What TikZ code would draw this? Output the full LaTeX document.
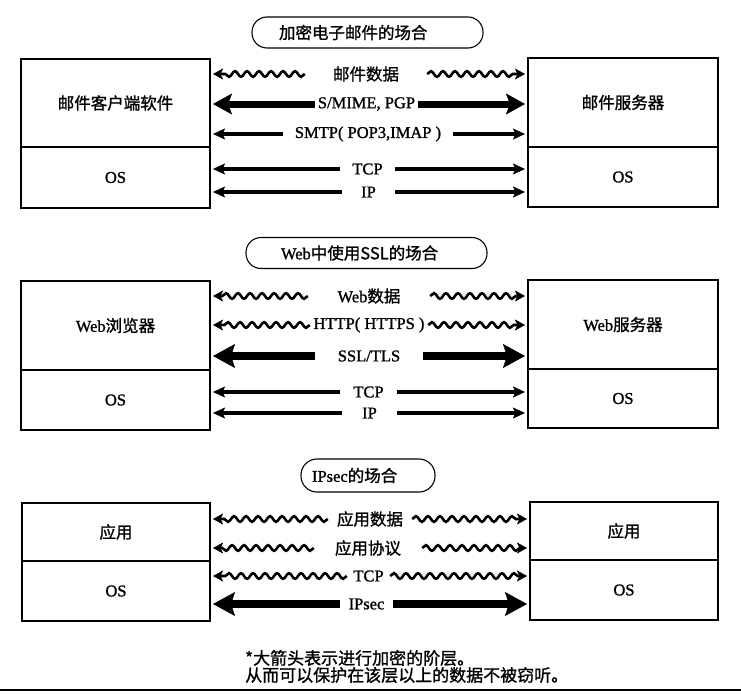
\documentclass[tikz,border=0pt]{standalone}
\usepackage{fontspec}
\setmainfont{Liberation Serif}[FakeBold=1.2]
\newfontfamily\cjk{Noto Sans CJK SC}[FakeBold=1.2]
\usetikzlibrary{arrows.meta,decorations.pathmorphing}
\newcommand{\zh}[1]{{\cjk #1}}
\begin{document}
\begin{tikzpicture}[x=1pt,y=-1pt,
  every node/.style={font=\fontsize{16.5}{19}\selectfont},
  box/.style={draw, line width=1.1pt, inner sep=0pt},
  pill/.style={draw, line width=1.1pt, rounded corners=15pt, minimum height=31pt, align=left},
  gap/.style={inner sep=0pt, minimum height=14pt},
  wavearr/.style={line width=2.6pt, -{Stealth[length=10pt,width=11pt,inset=2.5pt,line width=0.4pt]}, shorten >=2.5pt, decorate, decoration={snake, amplitude=2.8pt, segment length=12pt, post length=9pt}},
  medarr/.style={line width=3.4pt, -{Stealth[length=12pt,width=11pt,inset=2.5pt,line width=0.4pt]}, shorten >=2.5pt},
  bigarr/.style={line width=7pt, -{Stealth[length=19pt,width=21pt,inset=4pt,line width=0.4pt]}, shorten >=2.5pt},
  hugearr/.style={line width=8pt, -{Stealth[length=22pt,width=24pt,inset=4pt,line width=0.4pt]}, shorten >=2.5pt},
]
\useasboundingbox (0,0) rectangle (741,693);

% ---------- Section 1 ----------
\node[pill, text width=177pt, inner xsep=27pt] (p1) at (367.5,32.5) {\zh{加密电子邮件的场合}};
\node[box, minimum width=189pt, minimum height=88pt] (L1t) at (115.5,103) {\zh{邮件客户端软件}};
\node[box, minimum width=189pt, minimum height=61pt] (L1b) at (115.5,177.5) {OS};
\node[box, minimum width=190pt, minimum height=89pt] (R1t) at (623,102.5) {\zh{邮件服务器}};
\node[box, minimum width=190pt, minimum height=60pt] (R1b) at (623,177) {OS};

\node[gap, minimum width=122pt] (a11) at (366,74) {\zh{邮件数据}};
\node[gap, minimum width=103pt] (a12) at (366.5,104) {S/MIME, PGP};
\node[gap, minimum width=170pt] (a13) at (368,134) {SMTP( POP3,IMAP )};
\node[gap, minimum width=55pt] (a14) at (367.5,169) {TCP};
\node[gap, minimum width=53pt] (a15) at (368.5,192) {IP};

\draw[wavearr] (a11.west) -- (a11.west -| L1t.east);
\draw[wavearr] (a11.east) -- (a11.east -| R1t.west);
\draw[bigarr] (a12.west) -- (a12.west -| L1t.east);
\draw[bigarr] (a12.east) -- (a12.east -| R1t.west);
\draw[medarr] (a13.west) -- (a13.west -| L1t.east);
\draw[medarr] (a13.east) -- (a13.east -| R1t.west);
\draw[medarr] (a14.west) -- (a14.west -| L1b.east);
\draw[medarr] (a14.east) -- (a14.east -| R1b.west);
\draw[medarr] (a15.west) -- (a15.west -| L1b.east);
\draw[medarr] (a15.east) -- (a15.east -| R1b.west);

% ---------- Section 2 ----------
\node[pill, text width=171pt, inner xsep=35pt] (p2) at (366.5,253) {Web\zh{中使用SSL的场合}};
\node[box, minimum width=189pt, minimum height=89pt] (L2t) at (115.5,325.5) {Web\zh{浏览器}};
\node[box, minimum width=189pt, minimum height=60pt] (L2b) at (115.5,400) {OS};
\node[box, minimum width=190pt, minimum height=89pt] (R2t) at (623,324.5) {Web\zh{服务器}};
\node[box, minimum width=190pt, minimum height=59pt] (R2b) at (623,398.5) {OS};

\node[gap, minimum width=122pt] (a21) at (369,296) {Web\zh{数据}};
\node[gap, minimum width=118pt] (a22) at (369,325) {HTTP( HTTPS )};
\node[gap, minimum width=108pt] (a23) at (369,356) {SSL/TLS};
\node[gap, minimum width=57pt] (a24) at (368.5,392) {TCP};
\node[gap, minimum width=55pt] (a25) at (369.5,413) {IP};

\draw[wavearr] (a21.west) -- (a21.west -| L2t.east);
\draw[wavearr] (a21.east) -- (a21.east -| R2t.west);
\draw[wavearr] (a22.west) -- (a22.west -| L2t.east);
\draw[wavearr] (a22.east) -- (a22.east -| R2t.west);
\draw[hugearr] (a23.west) -- (a23.west -| L2t.east);
\draw[hugearr] (a23.east) -- (a23.east -| R2t.west);
\draw[medarr] (a24.west) -- (a24.west -| L2b.east);
\draw[medarr] (a24.east) -- (a24.east -| R2b.west);
\draw[medarr] (a25.west) -- (a25.west -| L2b.east);
\draw[medarr] (a25.east) -- (a25.east -| R2b.west);

% ---------- Section 3 ----------
\node[pill, text width=112pt, inner xsep=11pt, minimum height=33pt, rounded corners=16pt] (p3) at (368,475.5) {IPsec\zh{的场合}};
\node[box, minimum width=188pt, minimum height=58pt] (L3t) at (116,532) {\zh{应用}};
\node[box, minimum width=188pt, minimum height=60pt] (L3b) at (116,591) {OS};
\node[box, minimum width=188pt, minimum height=58pt] (R3t) at (624,531) {\zh{应用}};
\node[box, minimum width=188pt, minimum height=60pt] (R3b) at (624,590) {OS};

\node[gap, minimum width=84pt] (a31) at (370,519) {\zh{应用数据}};
\node[gap, minimum width=108pt] (a32) at (368,548) {\zh{应用协议}};
\node[gap, minimum width=43pt] (a33) at (368.5,576) {TCP};
\node[gap, minimum width=53pt] (a34) at (366.5,604) {IPsec};

\draw[wavearr] (a31.west) -- (a31.west -| L3t.east);
\draw[wavearr] (a31.east) -- (a31.east -| R3t.west);
\draw[wavearr] (a32.west) -- (a32.west -| L3t.east);
\draw[wavearr] (a32.east) -- (a32.east -| R3t.west);
\draw[wavearr] (a33.west) -- (a33.west -| L3b.east);
\draw[wavearr] (a33.east) -- (a33.east -| R3b.west);
\draw[hugearr] (a34.west) -- (a34.west -| L3b.east);
\draw[hugearr] (a34.east) -- (a34.east -| R3b.west);

% ---------- Footnote ----------
\node[anchor=west, align=left, inner sep=0pt, font=\fontsize{17}{17}\selectfont\cjk] (note) at (245,666.5) {*大箭头表示进行加密的阶层。\\从而可以保护在该层以上的数据不被窃听。};
\coordinate (bl) at (0,690);
\coordinate (br) at (741,690);
\draw[line width=1.8pt] (bl) -- (br);
\end{tikzpicture}
\end{document}
